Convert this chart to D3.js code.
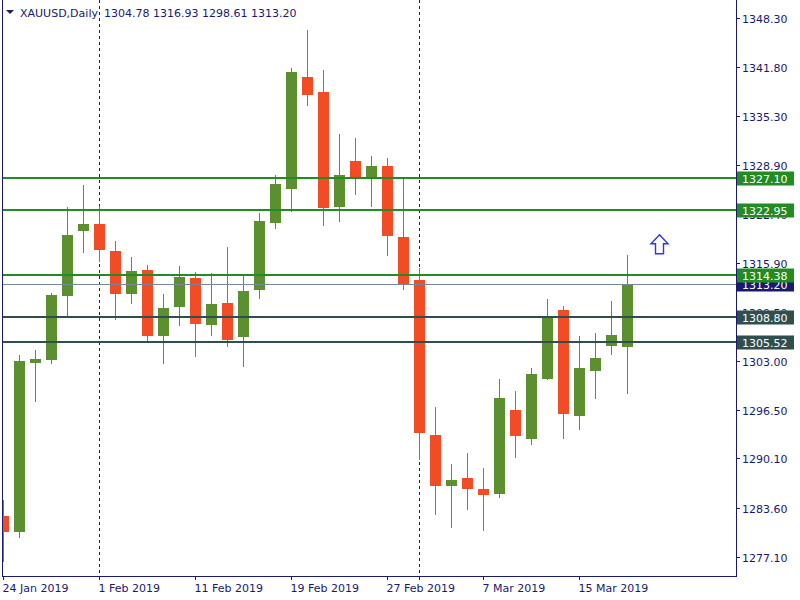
<!DOCTYPE html>
<html>
<head>
<meta charset="utf-8">
<script src="https://cdn.jsdelivr.net/npm/d3@7"></script>
<style>
  html, body { margin: 0; padding: 0; background: #ffffff; }
  svg { display: block; }
  text { font-family: "DejaVu Sans", Verdana, sans-serif; font-size: 11px; }
</style>
</head>
<body>
<svg id="chart" width="800" height="600"></svg>
<script>
// ---------------- data ----------------
const symbol = "XAUUSD,Daily";
const dates = [
  "2019-01-24","2019-01-25","2019-01-28","2019-01-29","2019-01-30","2019-01-31",
  "2019-02-01","2019-02-04","2019-02-05","2019-02-06","2019-02-07","2019-02-08",
  "2019-02-11","2019-02-12","2019-02-13","2019-02-14","2019-02-15","2019-02-18",
  "2019-02-19","2019-02-20","2019-02-21","2019-02-22","2019-02-25","2019-02-26",
  "2019-02-27","2019-02-28","2019-03-01","2019-03-04","2019-03-05","2019-03-06",
  "2019-03-07","2019-03-08","2019-03-11","2019-03-12","2019-03-13","2019-03-14",
  "2019-03-15","2019-03-18","2019-03-19","2019-03-20"
];
const opens = [
  1282.5, 1280.4, 1302.7, 1303.1, 1311.6, 1320.2,
  1321.1, 1317.5, 1311.8, 1315.0, 1306.3, 1310.1,
  1313.9, 1307.7, 1310.6, 1306.1, 1312.4, 1321.2,
  1325.7, 1340.5, 1338.5, 1323.3, 1329.4, 1327.3,
  1328.7, 1319.4, 1313.7, 1293.2, 1286.5, 1287.5,
  1286.0, 1285.4, 1296.5, 1292.7, 1300.6, 1309.7,
  1295.7, 1301.7, 1305.0, 1304.78
];
const highs = [
  1284.6, 1303.8, 1304.4, 1312.0, 1323.3, 1326.2,
  1323.5, 1318.8, 1316.7, 1315.7, 1311.8, 1315.5,
  1314.7, 1314.6, 1318.0, 1314.2, 1322.5, 1327.6,
  1341.7, 1346.7, 1341.4, 1333.0, 1332.4, 1330.1,
  1329.8, 1327.2, 1315.3, 1296.9, 1289.4, 1290.8,
  1288.8, 1300.6, 1299.0, 1302.0, 1311.2, 1310.2,
  1306.3, 1306.7, 1310.9, 1316.93
];
const lows = [
  1276.4, 1279.6, 1297.6, 1302.6, 1308.9, 1317.3,
  1316.0, 1308.4, 1310.5, 1305.3, 1302.6, 1307.6,
  1303.5, 1306.3, 1304.8, 1302.2, 1311.2, 1320.4,
  1322.7, 1336.7, 1320.8, 1321.3, 1324.9, 1323.3,
  1316.8, 1312.4, 1289.9, 1282.6, 1280.9, 1283.3,
  1280.5, 1284.9, 1290.2, 1291.8, 1300.5, 1292.6,
  1293.8, 1298.0, 1303.7, 1298.61
];
const closes = [
  1280.4, 1303.0, 1303.2, 1311.7, 1319.6, 1321.1,
  1317.6, 1311.8, 1314.9, 1306.3, 1310.0, 1314.1,
  1307.9, 1310.5, 1305.7, 1312.2, 1321.5, 1326.4,
  1341.2, 1338.1, 1323.2, 1327.6, 1327.2, 1328.7,
  1319.5, 1313.1, 1293.4, 1286.4, 1287.2, 1286.0,
  1285.2, 1298.1, 1293.1, 1301.3, 1308.9, 1295.9,
  1302.0, 1303.4, 1306.4, 1313.20
];
const headerValues = ["1304.78", "1316.93", "1298.61", "1313.20"];
const yTickLabels = ["1348.30","1341.80","1335.30","1328.90","1322.40","1315.90","1309.50","1303.00","1296.50","1290.10","1283.60","1277.10"];
const xTickDates = ["2019-01-24","2019-02-01","2019-02-11","2019-02-19","2019-02-27","2019-03-07","2019-03-15"];
const separatorDates = ["2019-02-01","2019-03-01"];
const supportLevels = [1327.10, 1322.95, 1314.38];   // green lines
const resistLevels = [1308.80, 1305.52];            // dark slate lines
const bidPrice = 1313.20;
const arrowMark = { index: 41, price: 1318.4 };      // blue up arrow

// ---------------- layout ----------------
const svg = d3.select("#chart");
const L = 2, R = 736, T = 2, B = 576;
const textCol = "#191970";
const upCol = "#5b8f30", downCol = "#f24c27";

const x = d3.scaleLinear().domain([0, dates.length - 1]).range([3.5, 3.5 + 16 * (dates.length - 1)]);
const y = d3.scaleLinear().domain([1274.55, 1350.41]).range([B, T]);
const idx = d => dates.indexOf(d);
const parse = d3.timeParse("%Y-%m-%d");
const fmt = d3.timeFormat("%-d %b %Y");

svg.append("defs").append("clipPath").attr("id", "plot")
  .append("rect").attr("x", L + 0.5).attr("y", 0).attr("width", R - L).attr("height", B);

const plot = svg.append("g").attr("clip-path", "url(#plot)");

// separators
plot.selectAll("line.sep").data(separatorDates).join("line")
  .attr("x1", d => Math.floor(x(idx(d))) + 0.5).attr("x2", d => Math.floor(x(idx(d))) + 0.5)
  .attr("y1", 0).attr("y2", B)
  .attr("stroke", "#191970").attr("stroke-width", 1).attr("stroke-dasharray", "3,3");

// candles
const candles = dates.map((d, i) => ({ i, o: opens[i], h: highs[i], l: lows[i], c: closes[i] }));
const cg = plot.selectAll("g.c").data(candles).join("g");
cg.append("rect")
  .attr("x", d => x(d.i) - 0.5).attr("width", 1)
  .attr("y", d => Math.round(y(d.h))).attr("height", d => Math.max(1, Math.round(y(d.l)) - Math.round(y(d.h))))
  .attr("fill", d => d.c >= d.o ? upCol : downCol);
cg.append("rect")
  .attr("x", d => x(d.i) - 5.5).attr("width", 11)
  .attr("y", d => Math.round(y(Math.max(d.o, d.c))))
  .attr("height", d => Math.max(1, Math.round(y(Math.min(d.o, d.c))) - Math.round(y(Math.max(d.o, d.c)))))
  .attr("fill", d => d.c >= d.o ? upCol : downCol);

// level lines
const lines = svg.append("g");
lines.append("line")
  .attr("x1", L).attr("x2", R + 1).attr("y1", Math.round(y(bidPrice)) + 0.5).attr("y2", Math.round(y(bidPrice)) + 0.5)
  .attr("stroke", "#778899").attr("stroke-width", 1);
lines.selectAll("line.g").data(supportLevels).join("line")
  .attr("x1", L).attr("x2", R + 4).attr("y1", d => Math.round(y(d))).attr("y2", d => Math.round(y(d)))
  .attr("stroke", "#228b22").attr("stroke-width", 2);
lines.selectAll("line.r").data(resistLevels).join("line")
  .attr("x1", L).attr("x2", R + 4).attr("y1", d => Math.round(y(d))).attr("y2", d => Math.round(y(d)))
  .attr("stroke", "#2f4f4f").attr("stroke-width", 2);

// arrow annotation
const ax = x(arrowMark.index), ay = y(arrowMark.price);
svg.append("path")
  .attr("d", `M${ax},${ay - 9.5} L${ax + 8.5},${ay - 0.5} L${ax + 4},${ay - 0.5} L${ax + 4},${ay + 9.5} L${ax - 4},${ay + 9.5} L${ax - 4},${ay - 0.5} L${ax - 8.5},${ay - 0.5} Z`)
  .attr("fill", "#ffffff").attr("stroke", "#3030ff").attr("stroke-width", 1.4);

// frame / axes
svg.append("line").attr("x1", L + 0.5).attr("x2", L + 0.5).attr("y1", 0).attr("y2", B + 0.5).attr("stroke", textCol);
svg.append("line").attr("x1", R + 0.5).attr("x2", R + 0.5).attr("y1", 0).attr("y2", B + 0.5).attr("stroke", textCol);
svg.append("line").attr("x1", L).attr("x2", R + 1).attr("y1", B + 0.5).attr("y2", B + 0.5).attr("stroke", textCol);

// y axis ticks & labels
const yt = svg.append("g");
yTickLabels.forEach(t => {
  const yy = Math.round(y(+t)) + 0.5;
  yt.append("line").attr("x1", R).attr("x2", R + 4).attr("y1", yy).attr("y2", yy).attr("stroke", textCol);
  yt.append("text").attr("x", 742).attr("y", yy + 4).attr("fill", textCol).text(t);
});

// x axis ticks & labels
const xt = svg.append("g");
xTickDates.forEach(d => {
  const xx = Math.floor(x(idx(d))) + 0.5;
  xt.append("line").attr("x1", xx).attr("x2", xx).attr("y1", B).attr("y2", B + 4).attr("stroke", textCol);
  xt.append("text").attr("x", xx - 1).attr("y", 592).attr("fill", textCol).text(fmt(parse(d)));
});
separatorDates.forEach(d => {
  const xx = Math.floor(x(idx(d))) + 0.5;
  xt.append("line").attr("x1", xx).attr("x2", xx).attr("y1", B).attr("y2", B + 4).attr("stroke", textCol);
});

// price label boxes
function priceBox(p, col) {
  const yy = Math.round(y(p));
  const g = svg.append("g");
  g.append("rect").attr("x", R + 1).attr("y", yy - 6.5).attr("width", 57).attr("height", 14).attr("fill", col);
  g.append("text").attr("x", 742).attr("y", yy + 4.5).attr("fill", "#ffffff").text(p.toFixed(2));
}
priceBox(bidPrice, "#191970");
resistLevels.forEach(p => priceBox(p, "#2f4f4f"));
supportLevels.forEach(p => priceBox(p, "#228b22"));

// header
svg.append("path").attr("d", "M6,10 L14,10 L10,14 Z").attr("fill", textCol);
svg.append("text").attr("x", 20).attr("y", 17).attr("fill", textCol).text(symbol);
svg.append("text").attr("x", 104).attr("y", 17).attr("fill", textCol).text(headerValues.join(" "));
</script>
</body>
</html>
